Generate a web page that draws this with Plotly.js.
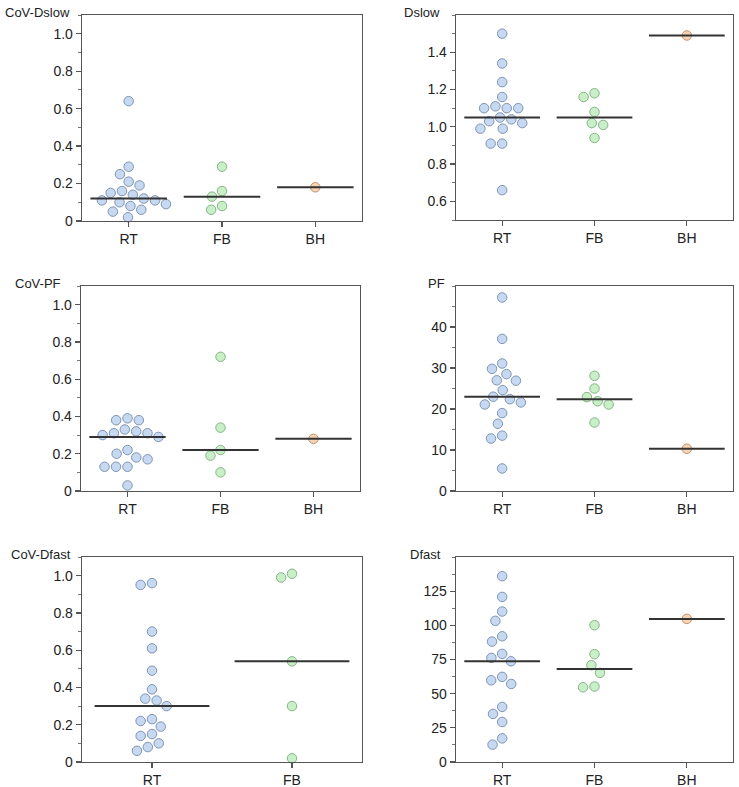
<!DOCTYPE html>
<html><head><meta charset="utf-8">
<script src="https://cdn.plot.ly/plotly-3.0.1.min.js"></script>
<style>body{margin:0;background:#fff}#chart{width:739px;height:787px}</style>
</head><body><div id="chart"></div>
<script>
// ---- categories ----
const groups3 = ['RT', 'FB', 'BH'];
const groups2 = ['RT', 'FB'];

// ---- values ----
const covDslowRT = [0.64, 0.29, 0.25, 0.19, 0.21, 0.15, 0.14, 0.16, 0.12, 0.11, 0.10, 0.11, 0.09, 0.06, 0.05, 0.08, 0.02];
const covDslowFB = [0.13, 0.29, 0.16, 0.08, 0.06];
const covDslowBH = [0.18];

const dslowRT = [1.50, 1.34, 1.24, 1.16, 1.11, 1.10, 1.10, 1.10, 1.04, 1.05, 1.02, 1.03, 0.99, 0.99, 0.91, 0.91, 0.66];
const dslowFB = [1.18, 1.16, 1.08, 1.02, 1.01, 0.94];
const dslowBH = [1.49];

const covPfRT = [0.39, 0.38, 0.38, 0.32, 0.31, 0.30, 0.31, 0.33, 0.29, 0.22, 0.20, 0.17, 0.18, 0.13, 0.13, 0.13, 0.03];
const covPfFB = [0.72, 0.34, 0.22, 0.19, 0.10];
const covPfBH = [0.28];

const pfRT = [47.2, 37.1, 31.1, 29.8, 28.5, 27.0, 26.9, 24.6, 23.0, 22.4, 21.6, 21.1, 19.0, 16.4, 13.5, 12.8, 5.5];
const pfFB = [28.1, 25.0, 21.9, 22.9, 21.1, 16.7];
const pfBH = [10.3];

const covDfastRT = [0.95, 0.96, 0.70, 0.61, 0.49, 0.39, 0.33, 0.34, 0.30, 0.22, 0.23, 0.19, 0.15, 0.14, 0.10, 0.08, 0.06];
const covDfastFB = [1.01, 0.99, 0.54, 0.30, 0.02];

const dfastRT = [136.0, 120.8, 110.1, 103.3, 92.0, 88.1, 79.1, 73.7, 76.2, 62.3, 59.8, 57.1, 40.3, 35.2, 29.3, 17.3, 12.7];
const dfastFB = [100.1, 78.9, 70.8, 65.2, 54.7, 55.2];
const dfastBH = [104.7];

// ---- tick labels ----
const covTickVals = [0, 0.2, 0.4, 0.6, 0.8, 1.0];
const covTickText = ['0', '0.2', '0.4', '0.6', '0.8', '1.0'];
const dslowTickVals = [0.6, 0.8, 1.0, 1.2, 1.4];
const dslowTickText = ['0.6', '0.8', '1.0', '1.2', '1.4'];
const pfTickVals = [0, 10, 20, 30, 40];
const pfTickText = ['0', '10', '20', '30', '40'];
const dfastTickVals = [0, 25, 50, 75, 100, 125];
const dfastTickText = ['0', '25', '50', '75', '100', '125'];

const panelLabels = ['CoV-Dslow', 'Dslow', 'CoV-PF', 'PF', 'CoV-Dfast', 'Dfast'];

// ---- styling / layout ----
const W = 739, H = 787;
const fills = ['#c6d9f1', '#c9efc8', '#f7d4b3'];
const edges = ['#7f95b6', '#86b486', '#c29270'];
const FONT = 'Liberation Sans, Arial, Helvetica, sans-serif';

const panels = [
  { label: panelLabels[0], groups: groups3, series: [covDslowRT, covDslowFB, covDslowBH], range: [0, 1.1], tv: covTickVals, tt: covTickText, minor: 0.1, minor0: 0, box: [82, 362, 15, 221], labelRight: 72 },
  { label: panelLabels[1], groups: groups3, series: [dslowRT, dslowFB, dslowBH], range: [0.5, 1.6], tv: dslowTickVals, tt: dslowTickText, minor: 0.1, minor0: 0.5, box: [456, 733, 15, 220], labelRight: 442 },
  { label: panelLabels[2], groups: groups3, series: [covPfRT, covPfFB, covPfBH], range: [0, 1.1], tv: covTickVals, tt: covTickText, minor: 0.1, minor0: 0, box: [81, 360, 286, 491], labelRight: 63 },
  { label: panelLabels[3], groups: groups3, series: [pfRT, pfFB, pfBH], range: [0, 50], tv: pfTickVals, tt: pfTickText, minor: 5, minor0: 0, box: [456, 733, 286, 491], labelRight: 447 },
  { label: panelLabels[4], groups: groups2, series: [covDfastRT, covDfastFB], range: [0, 1.1], tv: covTickVals, tt: covTickText, minor: 0.1, minor0: 0, box: [82, 362, 557, 762], labelRight: 73 },
  { label: panelLabels[5], groups: groups3, series: [dfastRT, dfastFB, dfastBH], range: [0, 150], tv: dfastTickVals, tt: dfastTickText, minor: 12.5, minor0: 0, box: [456, 733, 557, 762], labelRight: 443 }
];

function median(a) {
  const s = a.slice().sort((p, q) => p - q);
  const n = s.length;
  return n % 2 ? s[(n - 1) / 2] : (s[n / 2 - 1] + s[n / 2]) / 2;
}

// beeswarm offsets (in pixels) so that markers of spacing D do not overlap
function swarm(values, pxPerY, D) {
  const idx = values.map((v, i) => i).sort((a, b) => values[b] - values[a]);
  const placed = [];
  const off = new Array(values.length);
  idx.forEach(i => {
    const y = values[i] * pxPerY;
    const near = placed.filter(p => Math.abs(p.y - y) < D);
    const cands = [0];
    near.forEach(p => {
      const dx = Math.sqrt(D * D - (p.y - y) * (p.y - y));
      cands.push(p.x + dx, p.x - dx);
    });
    const ok = cands.filter(c => near.every(p => Math.hypot(p.x - c, p.y - y) >= D - 1e-6));
    ok.sort((a, b) => Math.abs(a) - Math.abs(b) || a - b);
    const x = ok[0];
    placed.push({ x: x, y: y });
    off[i] = x;
  });
  return off;
}

const traces = [];
const layout = {
  width: W, height: H,
  margin: { l: 0, r: 0, t: 0, b: 0 },
  paper_bgcolor: '#fff', plot_bgcolor: '#fff',
  showlegend: false,
  font: { family: FONT, size: 14, color: '#222' },
  annotations: []
};

panels.forEach((p, k) => {
  const n = k + 1;
  const xa = n === 1 ? 'x' : 'x' + n;
  const ya = n === 1 ? 'y' : 'y' + n;
  const [x0, x1, y0, y1] = p.box;
  const ng = p.groups.length;
  const pxPerX = (x1 - x0) / ng;
  const pxPerY = (y1 - y0) / (p.range[1] - p.range[0]);

  p.series.forEach((vals, g) => {
    const off = swarm(vals, pxPerY, 11.5);
    traces.push({
      type: 'scatter', mode: 'markers', xaxis: xa, yaxis: ya,
      x: vals.map((v, i) => g + off[i] / pxPerX), y: vals,
      marker: { size: 9.5, color: fills[g], line: { color: edges[g], width: 1 } },
      hoverinfo: 'y', cliponaxis: false
    });
    const m = median(vals);
    traces.push({
      type: 'scatter', mode: 'lines', xaxis: xa, yaxis: ya,
      x: [g - 0.41, g + 0.41], y: [m, m],
      line: { color: '#333', width: 2 }, hoverinfo: 'skip'
    });
  });

  const xName = n === 1 ? 'xaxis' : 'xaxis' + n;
  const yName = n === 1 ? 'yaxis' : 'yaxis' + n;
  layout[xName] = {
    domain: [x0 / W, x1 / W], anchor: ya,
    range: [-0.5, ng - 0.5], tickmode: 'array',
    tickvals: p.groups.map((g, i) => i), ticktext: p.groups,
    ticks: 'outside', ticklen: 5, tickwidth: 1.2, tickcolor: '#555',
    showline: true, linecolor: '#555', linewidth: 1.3, mirror: true,
    showgrid: false, zeroline: false, fixedrange: true,
    tickfont: { family: FONT, size: 14, color: '#222' }
  };
  layout[yName] = {
    domain: [1 - y1 / H, 1 - y0 / H], anchor: xa,
    range: p.range, tickmode: 'array', tickvals: p.tv, ticktext: p.tt,
    ticks: 'outside', ticklen: 5, tickwidth: 1.2, tickcolor: '#555',
    minor: { tickmode: 'linear', tick0: p.minor0, dtick: p.minor, ticks: 'outside', ticklen: 3, tickwidth: 1, tickcolor: '#777', showgrid: false },
    showline: true, linecolor: '#555', linewidth: 1.3, mirror: true,
    showgrid: false, zeroline: false, fixedrange: true,
    tickfont: { family: FONT, size: 14, color: '#222' }
  };
  layout.annotations.push({
    text: p.label, xref: 'paper', yref: 'paper',
    x: p.labelRight / W, y: 1 - (y0 - 3) / H,
    xanchor: 'right', yanchor: 'middle', showarrow: false,
    font: { family: FONT, size: 13, color: '#222' }
  });
});

Plotly.newPlot('chart', traces, layout, { displayModeBar: false, staticPlot: true });
</script>
</body></html>
